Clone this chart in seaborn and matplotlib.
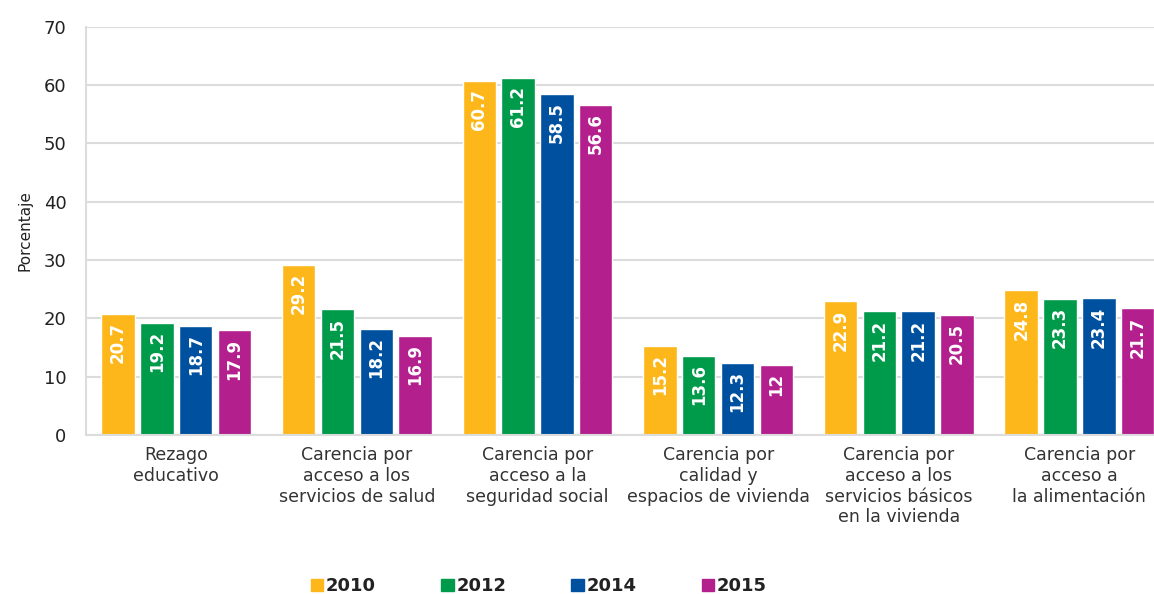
import numpy as np
import pandas as pd
import matplotlib.pyplot as plt
import seaborn as sns

categorias = ["Rezago\neducativo",
              "Carencia por\nacceso a los\nservicios de salud",
              "Carencia por\nacceso a la\nseguridad social",
              "Carencia por\ncalidad y\nespacios de vivienda",
              "Carencia por\nacceso a los\nservicios básicos\nen la vivienda",
              "Carencia por\nacceso a\nla alimentación"]
anios = ["2010", "2012", "2014", "2015"]
v2010 = [20.7, 29.2, 60.7, 15.2, 22.9, 24.8]
v2012 = [19.2, 21.5, 61.2, 13.6, 21.2, 23.3]
v2014 = [18.7, 18.2, 58.5, 12.3, 21.2, 23.4]
v2015 = [17.9, 16.9, 56.6, 12, 20.5, 21.7]
colores = ["#FDB71A", "#009A4B", "#0050A0", "#B41F8E"]

rows = []
for anio, vals in zip(anios, [v2010, v2012, v2014, v2015]):
    for c, v in zip(categorias, vals):
        rows.append({"categoria": c, "anio": anio, "valor": v})
df = pd.DataFrame(rows)

sns.set_style("white")
plt.rcParams['font.family'] = ['DejaVu Sans']

fig = plt.figure(figsize=(11.54, 5.94), dpi=100)
ax = fig.add_axes([0.0745, 0.268, 0.9255, 0.687])

sns.barplot(data=df, x="categoria", y="valor", hue="anio", palette=colores,
            width=0.86, gap=0.14, ax=ax, legend=True, saturation=1)

for cont in ax.containers:
    for bar in cont:
        h = bar.get_height()
        lab = f"{h:g}"
        ax.text(bar.get_x() + bar.get_width() / 2, h - 1.4, lab,
                rotation=90, ha="center", va="top", color="white",
                fontsize=12, fontweight="bold", family="DejaVu Sans")

ax.set_ylim(0, 70)
ax.set_yticks(range(0, 71, 10))
ax.set_xlim(-0.5, 5.413)
ax.yaxis.grid(True, color="#dcdcdc", linewidth=1.5)
ax.set_axisbelow(True)
for s in ["top", "right"]:
    ax.spines[s].set_visible(False)
ax.spines["left"].set_color("#dcdcdc")
ax.spines["bottom"].set_color("#dcdcdc")
ax.spines["left"].set_linewidth(1.5)
ax.spines["bottom"].set_linewidth(1.5)
ax.tick_params(axis="y", labelsize=13, colors="#222222", length=0, pad=14)
ax.tick_params(axis="x", labelsize=12.5, colors="#333333", length=0, pad=8)
ax.set_xlabel("")
ax.set_ylabel("Porcentaje", fontsize=11, color="#222222", labelpad=8)

ax.legend_.remove()
handles = [plt.Rectangle((0, 0), 1, 1, color=c) for c in colores]
leg = fig.legend(handles, anios, loc="center", bbox_to_anchor=(0.467, 0.013),
                 ncol=4, frameon=False, handlelength=0.7, handleheight=0.7,
                 handletextpad=0.15, columnspacing=3.6,
                 prop={"size": 13, "weight": "bold"})
for t in leg.get_texts():
    t.set_color("#222222")

fig.savefig("out.png", dpi=100)
